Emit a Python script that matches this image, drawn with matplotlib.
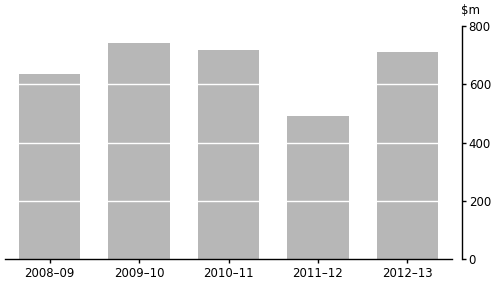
import matplotlib
matplotlib.use("Agg")
import matplotlib.pyplot as plt

categories = ["2008–09", "2009–10", "2010–11", "2011–12", "2012–13"]
values = [636, 740, 719, 492, 712]
yticks = [0, 200, 400, 600, 800]

plt.rcParams['font.family'] = ['DejaVu Sans']
fig = plt.figure(figsize=(4.96, 2.84), dpi=100)
ax = fig.add_axes([5/496, 1-259/284, (452-5)/496, (259-26)/284])

x = list(range(len(categories)))
ax.bar(x, values, width=0.685, color='#b7b7b7', zorder=1)
ax.set_xlim(-0.5, len(categories)-0.5)
ax.set_ylim(0, 800)
ax.set_yticks(yticks)
ax.set_yticklabels([str(v) for v in yticks])
ax.set_xticks(x)
ax.set_xticklabels(categories)

for v in yticks[1:-1]:
    ax.axhline(v, color='white', lw=1, zorder=2)

ax.yaxis.tick_right()
ax.spines['left'].set_visible(False)
ax.spines['top'].set_visible(False)
ax.spines['right'].set_position(('outward', 7))
for s in ('right', 'bottom'):
    ax.spines[s].set_linewidth(1)
    ax.spines[s].set_color('black')
ax.tick_params(axis='y', direction='out', length=3, width=1, pad=2, labelsize=8.5, colors='black')
ax.tick_params(axis='x', direction='out', length=3, width=1, pad=3, labelsize=8.5, colors='black')

fig.text(470/496, 1-10/284, "$m", ha='center', va='center', fontsize=8.5)

fig.savefig("out.png", dpi=100)
